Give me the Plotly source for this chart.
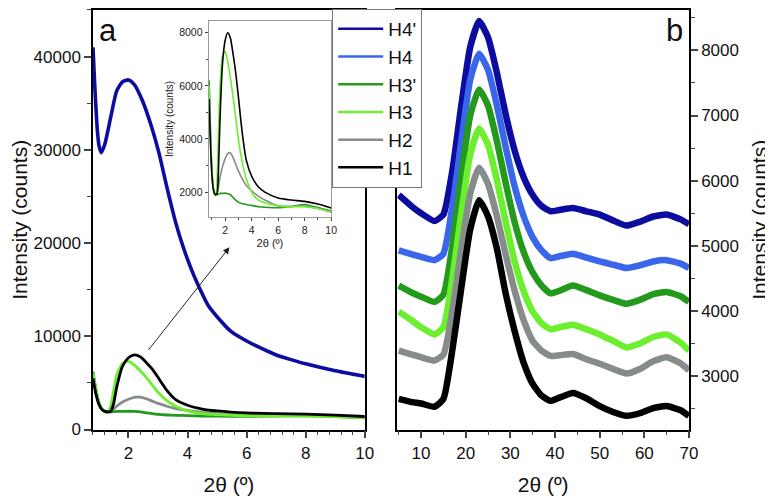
import plotly.graph_objects as go

# ---------------- Panel a (low angle) ----------------
a_x_h4p = [0.8, 0.85, 0.9, 0.95, 1.0, 1.08, 1.2, 1.4, 1.6, 1.8, 2.0, 2.2, 2.47, 2.75, 3.03,
           3.3, 3.59, 3.85, 4.14, 4.4, 4.7, 5.0, 5.48, 6.0, 6.49, 7.0, 7.5, 8.0, 9.0, 10.0]
a_y_h4p = [41000, 37500, 34500, 32000, 30500, 29700, 30600, 33500, 36300, 37300, 37500, 37000,
           35300, 32800, 29700, 26000, 22300, 19600, 17100, 15200, 13300, 12100, 10500, 9500,
           8720, 8000, 7500, 7050, 6300, 5700]

a_x = [0.8, 0.9, 1.0, 1.1, 1.2, 1.3, 1.4, 1.5, 1.6, 1.8, 2.0, 2.2, 2.4, 2.6, 2.8, 3.0, 3.3,
       3.6, 4.0, 4.5, 5.0, 6.0, 7.0, 8.0, 9.0, 10.0]
a_h1 = [5500, 3800, 2700, 2150, 1950, 1900, 1950, 2800, 4500, 6800, 7700, 8000, 7800, 7200,
        6500, 5600, 4200, 3200, 2600, 2200, 2000, 1780, 1700, 1650, 1550, 1400]
a_h2 = [5800, 4000, 2800, 2200, 1950, 1900, 1950, 2200, 2500, 2950, 3250, 3450, 3480, 3300,
        3050, 2800, 2500, 2250, 2050, 1850, 1700, 1480, 1460, 1470, 1380, 1250]
a_h3 = [6000, 4200, 2900, 2200, 1900, 1850, 2500, 4200, 5800, 7100, 7300, 6900, 6300, 5600,
        4800, 4000, 3100, 2500, 2000, 1700, 1600, 1480, 1450, 1450, 1380, 1250]
a_h3p = [6200, 4300, 2900, 2200, 1950, 1900, 1900, 1920, 1950, 1950, 1960, 1940, 1900, 1800,
         1700, 1620, 1560, 1530, 1500, 1450, 1430, 1410, 1460, 1530, 1420, 1290]

# ---------------- Panel b (wide angle, stacked) ----------------
b_x = [5, 8, 10, 13, 15, 17, 19, 21, 23, 25, 27, 29, 31, 33, 35, 37, 39, 41, 44, 47, 50, 53,
       56, 59, 62, 65, 68, 70]
b_h1 = [2650, 2600, 2580, 2530, 2650, 3400, 4350, 5250, 5700, 5450, 4950, 4250, 3680, 3200,
        2880, 2700, 2620, 2670, 2740, 2660, 2540, 2450, 2390, 2430, 2510, 2540, 2480, 2390]
b_h2 = [3390, 3330, 3290, 3240, 3330, 4000, 4950, 5800, 6200, 5950, 5450, 4850, 4300, 3850,
        3540, 3390, 3310, 3320, 3340, 3260, 3190, 3110, 3040, 3110, 3230, 3290, 3200, 3090]
b_h3 = [3990, 3850, 3750, 3640, 3750, 4500, 5500, 6400, 6800, 6550, 6000, 5350, 4750, 4300,
        3990, 3810, 3720, 3750, 3790, 3720, 3640, 3540, 3440, 3500, 3600, 3640, 3520, 3390]
b_h3p = [4390, 4280, 4220, 4140, 4250, 5000, 6050, 7000, 7400, 7150, 6600, 5950, 5350, 4900,
         4590, 4390, 4270, 4310, 4390, 4320, 4240, 4170, 4110, 4170, 4260, 4290, 4230, 4140]
b_h4 = [4930, 4870, 4830, 4780, 4880, 5600, 6600, 7550, 7950, 7700, 7150, 6500, 5900, 5450,
        5130, 4930, 4810, 4840, 4880, 4820, 4760, 4710, 4660, 4700, 4760, 4780, 4730, 4660]
b_h4p = [5780, 5600, 5500, 5380, 5480, 6150, 7150, 8050, 8450, 8200, 7650, 7000, 6450, 6050,
         5780, 5610, 5530, 5550, 5580, 5530, 5480, 5390, 5310, 5370, 5450, 5480, 5410, 5330]

names = ["H4'", "H4", "H3'", "H3", "H2", "H1"]
colors = {"H4'": "#0c0ca0", "H4": "#3a66ea", "H3'": "#239a1c", "H3": "#6cef2e",
          "H2": "#868c8c", "H1": "#000000"}

fig = go.Figure()

# panel a main
a_series = [("H3'", a_x, a_h3p), ("H2", a_x, a_h2), ("H3", a_x, a_h3), ("H1", a_x, a_h1),
            ("H4'", a_x_h4p, a_y_h4p)]
for n, xs, ys in a_series:
    w = 3.6 if n == "H4'" else 2.8
    fig.add_trace(go.Scatter(x=xs, y=ys, mode="lines", name=n,
                             line=dict(color=colors[n], width=w, shape="spline", smoothing=0.6),
                             xaxis="x", yaxis="y", showlegend=False, legendgroup=n))

# legend entries (one per sample, drawn in legend only)
for i, n in enumerate(names):
    fig.add_trace(go.Scatter(x=[None], y=[None], mode="lines", name=n, line=dict(color=colors[n], width=2.5),
                             xaxis="x", yaxis="y", showlegend=True, legendrank=i + 1, legendgroup=n))

# inset
for n, xs, ys in a_series[:-1]:
    fig.add_trace(go.Scatter(x=xs, y=ys, mode="lines", name=n,
                             line=dict(color=colors[n], width=1.6, shape="spline", smoothing=0.6),
                             xaxis="x3", yaxis="y3", showlegend=False, legendgroup=n))

# panel b
b_series = [("H4'", b_h4p), ("H4", b_h4), ("H3'", b_h3p), ("H3", b_h3), ("H2", b_h2), ("H1", b_h1)]
for n, ys in b_series:
    fig.add_trace(go.Scatter(x=b_x, y=ys, mode="lines", name=n,
                             line=dict(color=colors[n], width=6.5, shape="spline", smoothing=0.5),
                             xaxis="x2", yaxis="y2", showlegend=False, legendgroup=n))

tickfont = dict(family="Liberation Sans, Arial", size=17, color="#111")
titlefont = dict(family="Liberation Sans, Arial", size=21, color="#111")
small = dict(family="Liberation Sans, Arial", size=10.5, color="#222")

fig.update_layout(
    width=773, height=500,
    margin=dict(l=0, r=0, t=0, b=0),
    paper_bgcolor="white", plot_bgcolor="white",
    font=dict(family="Liberation Sans, Arial"),
    xaxis=dict(domain=[86/773, 361/773], range=[0.8, 10], tickvals=[2, 4, 6, 8, 10], ticks="outside", ticklen=7, tickwidth=1.5,
               minor=dict(dtick=0.4, tick0=0.8, ticks="outside", ticklen=4, tickwidth=1.2), showline=True, linecolor="black",
               linewidth=1.5, mirror=True, showgrid=False, zeroline=False, tickfont=tickfont,
               title=dict(text="2θ (º)", font=titlefont, standoff=16), anchor="y"),
    yaxis=dict(domain=[70/500, 499/500], range=[0, 45000], tickvals=[0, 10000, 20000, 30000, 40000], tickformat="d",
               ticks="outside", ticklen=7, tickwidth=1.5, minor=dict(dtick=5000, ticks="outside", ticklen=4, tickwidth=1.2),
               showline=True, linecolor="black", linewidth=1.5, mirror=True, showgrid=False, zeroline=False,
               tickfont=tickfont, title=dict(text="Intensity (counts)", font=titlefont, standoff=8), anchor="x"),
    xaxis2=dict(domain=[394/773, 689/773], range=[4.7, 70], tickvals=[10, 20, 30, 40, 50, 60, 70], ticks="outside",
                ticklen=7, tickwidth=1.5, minor=dict(dtick=5, tick0=0, ticks="outside", ticklen=4, tickwidth=1.2),
                showline=True, linecolor="black", linewidth=1.5, mirror=True, showgrid=False, zeroline=False,
                tickfont=tickfont, title=dict(text="2θ (º)", font=titlefont, standoff=16), anchor="y2"),
    yaxis2=dict(domain=[70/500, 499/500], range=[2180, 8620], side="right", tickvals=[3000, 4000, 5000, 6000, 7000, 8000],
                tickformat="d", ticks="outside", ticklen=7, tickwidth=1.5,
                minor=dict(dtick=500, ticks="outside", ticklen=4, tickwidth=1.2),
                showline=True, linecolor="black", linewidth=1.5, mirror=True, showgrid=False, zeroline=False,
                tickfont=tickfont, title=dict(text="Intensity (counts)", font=titlefont, standoff=14), anchor="x2"),
    xaxis3=dict(domain=[203/773, 327/773], range=[0.76, 10], tickvals=[2, 4, 6, 8, 10], ticks="outside", ticklen=3,
                minor=dict(dtick=1, ticks="outside", ticklen=2), showline=True, linecolor="#999", linewidth=1,
                mirror=True, showgrid=False, zeroline=False, tickfont=small,
                title=dict(text="2θ (º)", font=dict(family="Liberation Sans, Arial", size=11, color="#222"), standoff=4),
                anchor="y3"),
    yaxis3=dict(domain=[287/500, 488/500], range=[1050, 8450], tickvals=[2000, 4000, 6000, 8000], tickformat="d",
                ticks="outside", ticklen=3, minor=dict(dtick=1000, ticks="outside", ticklen=2), showline=True,
                linecolor="#999", linewidth=1, mirror=True, showgrid=False, zeroline=False, tickfont=small,
                title=dict(text="Intensity (counts)", font=dict(family="Liberation Sans, Arial", size=10, color="#222"),
                           standoff=3), anchor="x3"),
    legend=dict(x=328/773, y=1.0, xanchor="left", yanchor="top", bgcolor="white", bordercolor="#777",
                borderwidth=1, font=dict(family="Liberation Sans, Arial", size=19, color="#111"),
                tracegroupgap=0, itemwidth=45),
    annotations=[
        dict(text="a", x=90/773, y=1 - 2/500, xref="paper", yref="paper", xanchor="left", yanchor="top",
             showarrow=False, font=dict(family="Liberation Sans, Arial", size=31, color="#111")),
        dict(text="b", x=685/773, y=1 - 2/500, xref="paper", yref="paper", xanchor="right", yanchor="top",
             showarrow=False, font=dict(family="Liberation Sans, Arial", size=31, color="#111")),
        dict(x=5.42, y=19550, ax=2.64, ay=8380, xref="x", yref="y", axref="x", ayref="y", text="",
             showarrow=True, arrowhead=2, arrowsize=1.3, arrowwidth=1, arrowcolor="#222"),
    ],
)

fig.write_html("out.html")
